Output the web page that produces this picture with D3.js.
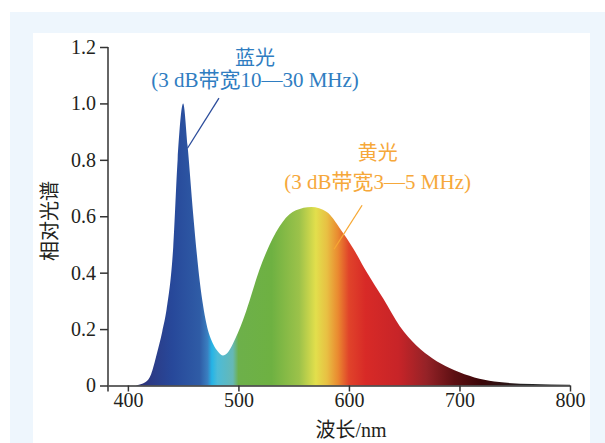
<!DOCTYPE html>
<html>
<head>
<meta charset="utf-8">
<script src="https://cdn.jsdelivr.net/npm/d3@7"></script>
<style>
  body { margin: 0; background: #fff; }
  svg { display: block; }
</style>
</head>
<body>
<div id="chart"></div>
<script>
// spectrum
var wavelengths = [382, 404, 410, 416, 421, 426, 431, 435, 441, 445, 450, 454, 459, 465, 471, 477, 482, 486, 490, 495, 504, 510, 519, 528, 540, 552, 566, 580, 592, 604, 616, 631, 646, 661, 676, 691, 700, 718, 736, 766, 800];
var intensity   = [0, 0, 0.003, 0.012, 0.04, 0.11, 0.19, 0.27, 0.49, 0.80, 1.00, 0.85, 0.61, 0.37, 0.22, 0.148, 0.118, 0.106, 0.115, 0.148, 0.23, 0.30, 0.41, 0.497, 0.58, 0.621, 0.633, 0.615, 0.556, 0.485, 0.402, 0.308, 0.21, 0.142, 0.095, 0.062, 0.047, 0.024, 0.012, 0.005, 0.003];

var xTicks = [400, 500, 600, 700, 800];
var yTicks = [0, 0.2, 0.4, 0.6, 0.8, 1.0, 1.2];

// colour of the fill along the wavelength
var stopWavelengths = [400, 420, 440, 465, 472, 476, 481, 495, 500, 530, 555, 570, 580, 590, 600, 615, 645, 670, 695, 720, 760, 800];
var stopColors = ["#2b2466", "#2c3a85", "#27489a", "#2f5ca6", "#3a7fc0", "#25b4e6", "#4cbbd8", "#66b8b5", "#6db04a", "#6eb142", "#9cc24a", "#e2df4c", "#e8c043", "#ea8a30", "#e0432a", "#d82a27", "#c72428", "#952227", "#5e1013", "#3a0608", "#222222", "#333333"];

var width = 605, height = 443;

var svg = d3.select("#chart").append("svg")
    .attr("width", width)
    .attr("height", height);

// frame
svg.append("rect").attr("x", 10).attr("y", 12).attr("width", 595).attr("height", 431).style("fill", "#eef6fd");
svg.append("rect").attr("x", 33).attr("y", 33).attr("width", 557).attr("height", 410).style("fill", "#ffffff");

var x = d3.scaleLinear().domain([382, 800]).range([108, 570]);
var y = d3.scaleLinear().domain([0, 1.2]).range([385.5, 47]);

var grad = svg.append("defs").append("linearGradient")
    .attr("id", "spec")
    .attr("gradientUnits", "userSpaceOnUse")
    .attr("x1", x(382)).attr("x2", x(800))
    .attr("y1", 0).attr("y2", 0);

grad.selectAll("stop").data(stopWavelengths).enter().append("stop")
    .attr("offset", function(d) { return (x(d) - x(382)) / (x(800) - x(382)); })
    .attr("stop-color", function(d, i) { return stopColors[i]; });

var pts = wavelengths.map(function(w, i) { return [w, intensity[i]]; });

var area = d3.area()
    .x(function(d) { return x(d[0]); })
    .y0(y(0))
    .y1(function(d) { return y(d[1]); })
    .curve(d3.curveMonotoneX);

svg.append("path")
    .datum(pts)
    .attr("d", area)
    .style("fill", "url(#spec)");

// axes
var axisFont = "'Liberation Serif', 'Times New Roman', serif";

var yAxis = svg.append("g")
    .attr("transform", "translate(108,0)")
    .call(d3.axisLeft(y).tickValues(yTicks).tickSize(8).tickPadding(4)
        .tickFormat(function(d) { return d === 0 ? "0" : d3.format(".1f")(d); }));
yAxis.select(".domain").remove();

var xAxis = svg.append("g")
    .attr("transform", "translate(0," + y(0) + ")")
    .call(d3.axisBottom(x).tickValues(xTicks).tickSize(6).tickSizeOuter(0).tickPadding(1));

svg.append("line")
    .attr("x1", 108).attr("x2", 108)
    .attr("y1", y(1.2)).attr("y2", y(0) + 6)
    .style("stroke", "#333").style("stroke-width", 1.5);

svg.selectAll(".tick line, .domain").style("stroke", "#333").style("stroke-width", 1.5);
svg.selectAll(".tick text")
    .style("font-family", axisFont)
    .style("font-size", "20px")
    .style("fill", "#231f20");

var cjkFont = "'Liberation Serif', 'Noto Sans CJK SC', serif";

svg.append("text")
    .attr("x", 351)
    .attr("y", 437)
    .attr("text-anchor", "middle")
    .text("波长/nm")
    .style("font-family", cjkFont)
    .style("font-size", "20px")
    .style("fill", "#231f20");

svg.append("text")
    .attr("transform", "translate(50,221) rotate(-90)")
    .attr("text-anchor", "middle")
    .attr("dy", "0.35em")
    .text("相对光谱")
    .style("font-family", cjkFont)
    .style("font-size", "20px")
    .style("fill", "#231f20");

// annotations
var notes = [
    {title: "蓝光", sub: "(3 dB带宽10—30 MHz)", color: "#2f7dc1", lineColor: "#2b4c9b",
     wl: 515, vTitle: 1.161, vSub: 1.083, from: [482.4, 1.019], to: [453.9, 0.841]},
    {title: "黄光", sub: "(3 dB带宽3—5 MHz)", color: "#f6a83a", lineColor: "#f7a833",
     wl: 626, vTitle: 0.824, vSub: 0.724, from: [611.9, 0.639], to: [586.5, 0.483]}
];

notes.forEach(function(n) {
    svg.append("line")
        .attr("x1", x(n.from[0])).attr("y1", y(n.from[1]))
        .attr("x2", x(n.to[0])).attr("y2", y(n.to[1]))
        .style("stroke", n.lineColor).style("stroke-width", 1.3);
    svg.append("text")
        .attr("x", x(n.wl)).attr("y", y(n.vTitle))
        .attr("dy", "0.35em")
        .attr("text-anchor", "middle")
        .text(n.title)
        .style("font-family", cjkFont).style("font-size", "20px").style("fill", n.color);
    svg.append("text")
        .attr("x", x(n.wl)).attr("y", y(n.vSub))
        .attr("dy", "0.35em")
        .attr("text-anchor", "middle")
        .text(n.sub)
        .style("font-family", cjkFont).style("font-size", "21px").style("fill", n.color);
});
</script>
</body>
</html>
